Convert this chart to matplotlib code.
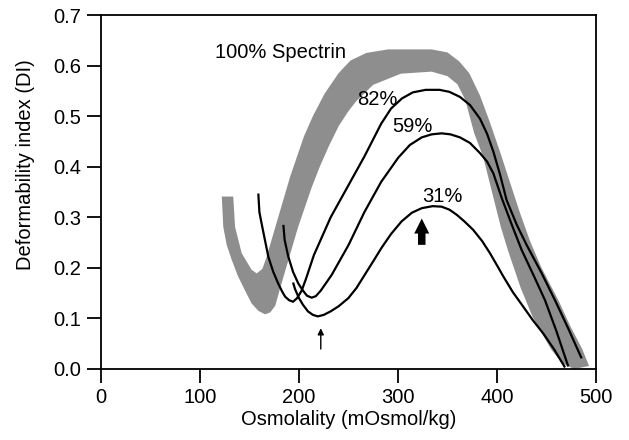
import numpy as np
import matplotlib
matplotlib.use("Agg")
import matplotlib.pyplot as plt

plt.rcParams['font.family'] = ['Liberation Sans', 'DejaVu Sans']

# ---- 100% spectrin band (inner / outer edge of the grey band) ----
band_inner_x = [122, 123.5, 127, 132, 138, 145.5, 152, 158.9, 165.7, 171, 176, 181, 187, 193, 199,
                206, 213, 221, 230, 240, 250, 258, 275, 303, 334, 350, 360, 368, 377, 386, 397,
                404, 411, 424, 436, 447, 455, 466, 478]
band_inner_y = [0.341, 0.281, 0.245, 0.216, 0.185, 0.155, 0.130, 0.115, 0.108, 0.112, 0.125, 0.16, 0.20, 0.24, 0.28,
                0.32, 0.36, 0.40, 0.44, 0.48, 0.51, 0.53, 0.562, 0.584, 0.588, 0.579, 0.563, 0.532, 0.466, 0.42, 0.334,
                0.28, 0.235, 0.16, 0.103, 0.065, 0.038, 0.011, 0.0]
band_outer_x = [133.6, 135.4, 142.1, 152.2, 157.3, 163, 167, 173, 179, 185, 191, 198, 205, 214, 226,
                240, 252, 268, 290, 334, 350, 362, 372, 383, 393, 403, 413, 423, 434, 445, 462, 474, 486, 493]
band_outer_y = [0.341, 0.281, 0.229, 0.196, 0.189, 0.198, 0.22, 0.26, 0.30, 0.34, 0.38, 0.42, 0.46, 0.50, 0.545,
                0.585, 0.610, 0.625, 0.632, 0.632, 0.626, 0.608, 0.585, 0.54, 0.487, 0.43, 0.37, 0.31, 0.25, 0.20,
                0.136, 0.085, 0.04, 0.006]

# ---- 82% spectrin ----
s82_x = [158.9, 160, 163, 169, 174, 179, 183, 186, 190, 194, 198, 202.7, 207, 215, 232, 249, 266, 283, 293,
         304, 315, 328, 342, 352, 362.6, 372.7, 382.8, 390, 396.3, 403, 409.7, 420, 430, 445, 458.6, 472, 485.5]
s82_y = [0.347, 0.31, 0.28, 0.222, 0.192, 0.169, 0.153, 0.143, 0.136, 0.133, 0.140, 0.155, 0.178, 0.225, 0.30, 0.36,
         0.42, 0.485, 0.515, 0.535, 0.547, 0.552, 0.552, 0.548, 0.538, 0.522, 0.495, 0.465, 0.43, 0.385, 0.334,
         0.285, 0.245, 0.19, 0.136, 0.08, 0.021]

# ---- 59% spectrin ----
s59_x = [184.2, 185.5, 189.2, 194, 199.3, 204, 208, 212.8, 217, 222, 233, 250, 266, 283, 300.3, 312, 324, 334, 344,
         353, 362.6, 372.7, 382.8, 390, 396.3, 405, 415, 425, 437, 448.5, 460, 472]
s59_y = [0.285, 0.255, 0.222, 0.192, 0.169, 0.155, 0.145, 0.141, 0.144, 0.155, 0.186, 0.245, 0.31, 0.37, 0.418,
         0.443, 0.458, 0.464, 0.466, 0.464, 0.458, 0.447, 0.427, 0.41, 0.387, 0.337, 0.285, 0.235, 0.185, 0.136,
         0.075, 0.005]

# ---- 31% spectrin ----
s31_x = [194, 196, 200, 204, 209, 214, 219, 225, 232, 240, 249.8, 258, 266, 275, 283.5, 293, 303.7, 314, 324, 335,
         344, 352, 359.3, 367, 376, 385, 392.9, 400, 406.4, 416, 426.6, 436, 446.8, 458, 468.7]
s31_y = [0.171, 0.158, 0.14, 0.127, 0.114, 0.107, 0.104, 0.107, 0.114, 0.124, 0.140, 0.16, 0.185, 0.213, 0.240,
         0.267, 0.292, 0.309, 0.318, 0.322, 0.321, 0.315, 0.305, 0.292, 0.275, 0.253, 0.229, 0.205, 0.183, 0.152,
         0.123, 0.097, 0.07, 0.038, 0.003]

# curve labels
label_text = ["100% Spectrin", "82%", "59%", "31%"]
label_x = [115, 258.6, 294.6, 324]
label_y = [0.626, 0.532, 0.479, 0.341]

# arrows (x, tail y, head y)
arrow_x = [222, 324]
arrow_tail = [0.034, 0.240]
arrow_head = [0.086, 0.303]

fig = plt.figure(figsize=(6.29, 4.40), dpi=100)
ax = fig.add_axes([0.1606, 0.1614, 0.7869, 0.8045])

poly_x = np.r_[band_inner_x, band_outer_x[::-1]]
poly_y = np.r_[band_inner_y, band_outer_y[::-1]]
ax.fill(poly_x, poly_y, color='#8e8e8e', lw=0, zorder=1)

for xs, ys in [(s82_x, s82_y), (s59_x, s59_y), (s31_x, s31_y)]:
    ax.plot(xs, ys, color='black', lw=1.6, zorder=3, solid_capstyle='butt')

for t, x, y in zip(label_text, label_x, label_y):
    ax.text(x, y, t, fontsize=14.5, ha='left', va='center', zorder=4)

# thin arrow
ax.annotate("", xy=(arrow_x[0], arrow_head[0]), xytext=(arrow_x[0], arrow_tail[0]),
            arrowprops=dict(arrowstyle='-|>', color='black', lw=1.0, mutation_scale=9))
# thick arrow
ax.annotate("", xy=(arrow_x[1], arrow_head[1]), xytext=(arrow_x[1], arrow_tail[1]),
            arrowprops=dict(arrowstyle='simple,head_length=0.9,head_width=0.9,tail_width=0.45',
                            color='black', lw=0, mutation_scale=12))

ax.set_xlim(0, 500)
ax.set_ylim(0, 0.7)
ax.set_xticks([0, 100, 200, 300, 400, 500])
ax.set_yticks(np.arange(0, 0.71, 0.1))
ax.set_yticklabels([f"{v:.1f}" for v in np.arange(0, 0.71, 0.1)])
ax.tick_params(direction='out', length=10, width=1.3, labelsize=14.5, pad=4,
               top=False, right=False)
for s in ax.spines.values():
    s.set_linewidth(1.3)

ax.set_xlabel("Osmolality (mOsmol/kg)", fontsize=14.5)
ax.set_ylabel("Deformability index (DI)", fontsize=14.5)
ax.xaxis.label.set_va('center')
ax.yaxis.label.set_va('center')
ax.xaxis.set_label_coords(0.5, -0.144)
ax.yaxis.set_label_coords(-0.1535, 0.576)

fig.savefig("out.png", dpi=100)
